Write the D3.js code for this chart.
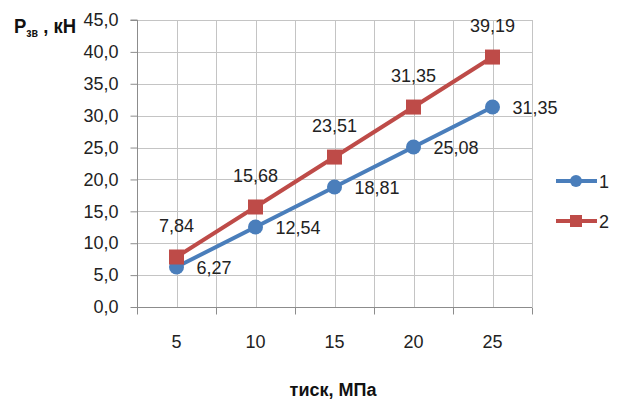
<!DOCTYPE html>
<html>
<head>
<meta charset="utf-8">
<script src="https://cdn.jsdelivr.net/npm/d3@7"></script>
<style>
  html, body { margin: 0; padding: 0; background: #ffffff; }
  svg { display: block; font-family: "Liberation Sans", Arial, sans-serif; }
</style>
</head>
<body>
<svg id="chart" width="617" height="399"></svg>
<script>
// Pressure categories (MPa)
const categories = ["5", "10", "15", "20", "25"];
// Force values, kN
const series1 = [6.27, 12.54, 18.81, 25.08, 31.35];
const series2 = [7.84, 15.68, 23.51, 31.35, 39.19];
const seriesNames = ["1", "2"];
const yTicks = [0, 5, 10, 15, 20, 25, 30, 35, 40, 45];

const fmt = v => d3.format(".2f")(v).replace(".", ",");
const fmtTick = v => d3.format(".1f")(v).replace(".", ",");

const svg = d3.select("#chart");
const plotL = 137, plotR = 532, plotT = 20, plotB = 307;

const x = d3.scaleBand().domain(categories).range([plotL, plotR]);
const y = d3.scaleLinear().domain([0, 45]).range([plotB, plotT]);
const cx = c => x(c) + x.bandwidth() / 2;

const grid = svg.append("g").attr("stroke", "#c4c4c4").attr("stroke-width", 1);
// horizontal gridlines
grid.selectAll("line.h").data(yTicks.slice(1)).join("line")
  .attr("x1", plotL).attr("x2", plotR)
  .attr("y1", d => Math.round(y(d)) + 0.5).attr("y2", d => Math.round(y(d)) + 0.5);
// vertical gridlines at category boundaries and centres
const vx = [];
categories.forEach(c => { vx.push(x(c) + x.bandwidth()); vx.push(cx(c)); });
grid.selectAll("line.v").data(vx).join("line")
  .attr("x1", d => Math.round(d) + 0.5).attr("x2", d => Math.round(d) + 0.5)
  .attr("y1", plotT).attr("y2", plotB);

// y axis
const yAxis = d3.axisLeft(y).tickValues(yTicks).tickFormat(fmtTick).tickSize(7).tickPadding(12);
const ya = svg.append("g").attr("transform", `translate(${plotL + 0.5},0)`).call(yAxis);
ya.select(".domain").attr("stroke", "#8c8c8c").attr("d", `M-7,${plotT}H0V${plotB}`);
ya.selectAll(".tick line").attr("stroke", "#8c8c8c");
ya.selectAll(".tick text").attr("font-size", 18).attr("fill", "#222");

// x axis
const xa = svg.append("g").attr("transform", `translate(0,${plotB + 0.5})`);
xa.append("line").attr("x1", plotL).attr("x2", plotR).attr("stroke", "#8c8c8c");
const bounds = [plotL].concat(categories.map(c => x(c) + x.bandwidth()));
xa.selectAll("line.tk").data(bounds).join("line")
  .attr("x1", d => Math.round(d) + 0.5).attr("x2", d => Math.round(d) + 0.5)
  .attr("y1", 0).attr("y2", 7).attr("stroke", "#8c8c8c");
xa.selectAll("text").data(categories).join("text")
  .attr("x", d => cx(d)).attr("y", 40)
  .attr("text-anchor", "middle").attr("font-size", 18).attr("fill", "#222")
  .text(d => d);

// series
const blue = "#4a7ebb", red = "#be4b48";
const line = d3.line().x((d, i) => cx(categories[i])).y(d => y(d));

svg.append("path").datum(series1).attr("d", line)
  .attr("fill", "none").attr("stroke", blue).attr("stroke-width", 4);
svg.append("path").datum(series2).attr("d", line)
  .attr("fill", "none").attr("stroke", red).attr("stroke-width", 4);

svg.selectAll("circle.s1").data(series1).join("circle")
  .attr("cx", (d, i) => cx(categories[i])).attr("cy", d => y(d)).attr("r", 7.5)
  .attr("fill", blue);
svg.selectAll("rect.s2").data(series2).join("rect")
  .attr("x", (d, i) => cx(categories[i]) - 7.5).attr("y", d => y(d) - 7.5)
  .attr("width", 15).attr("height", 15).attr("fill", red);

// data labels
svg.selectAll("text.l1").data(series1).join("text")
  .attr("x", (d, i) => cx(categories[i]) + 20).attr("y", d => y(d) + 7)
  .attr("font-size", 18).attr("fill", "#222").text(fmt);
svg.selectAll("text.l2").data(series2).join("text")
  .attr("x", (d, i) => cx(categories[i])).attr("y", d => y(d) - 25)
  .attr("text-anchor", "middle").attr("font-size", 18).attr("fill", "#222").text(fmt);

// legend
const leg = svg.append("g");
[[blue, "c", 181], [red, "s", 221]].forEach(([col, shape, ly], k) => {
  leg.append("line").attr("x1", 556).attr("x2", 597).attr("y1", ly).attr("y2", ly)
    .attr("stroke", col).attr("stroke-width", 4);
  if (shape === "c") leg.append("circle").attr("cx", 576).attr("cy", ly).attr("r", 6).attr("fill", col);
  else leg.append("rect").attr("x", 570).attr("y", ly - 6).attr("width", 12).attr("height", 12).attr("fill", col);
  leg.append("text").attr("x", 599).attr("y", ly + 7).attr("font-size", 18).attr("fill", "#222").text(seriesNames[k]);
});

// axis titles (y title horizontally condensed)
const yt = svg.append("g").attr("transform", "translate(14,33) scale(0.88,1)")
  .append("text")
  .attr("font-size", 21).attr("font-weight", "bold").attr("fill", "#111");
yt.append("tspan").text("P");
yt.append("tspan").attr("font-size", 12).attr("dy", 4).text("зв");
yt.append("tspan").attr("dy", -4).text(" , кН");

svg.append("text").attr("x", 333).attr("y", 396).attr("text-anchor", "middle")
  .attr("font-size", 18).attr("font-weight", "bold").attr("fill", "#111").text("тиск, МПа");
</script>
</body>
</html>
